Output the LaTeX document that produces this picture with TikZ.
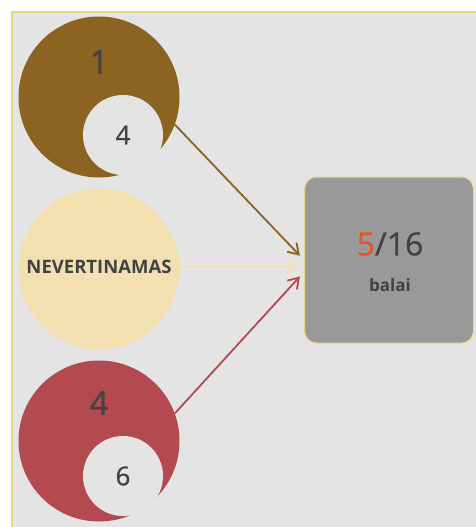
\documentclass[tikz,border=0pt]{standalone}
\usepackage{fontspec}
\setmainfont{Open Sans}
\newfontfamily\medfont{Open Sans}[FakeBold=0.7]
\usetikzlibrary{arrows.meta,positioning}

\definecolor{panelbg}{HTML}{E4E4E4}
\definecolor{goldline}{HTML}{F0D485}
\definecolor{brownc}{HTML}{8C6321}
\definecolor{wheatc}{HTML}{F2E0B0}
\definecolor{redc}{HTML}{B34A4F}
\definecolor{boxgray}{HTML}{999999}
\definecolor{scorered}{HTML}{E8532B}
\definecolor{txtgray}{HTML}{424242}

\tikzset{
  outer/.style={circle, minimum size=161pt, inner sep=0pt},
  inner/.style={circle, fill=panelbg, minimum size=80pt, inner sep=0pt,
    text=txtgray, font=\medfont\fontsize{26}{26}\selectfont},
  biglbl/.style={text=txtgray, font=\medfont\fontsize{33}{33}\selectfont},
  result/.style={rectangle, rounded corners=12pt, fill=boxgray, draw=goldline,
    line width=1pt, minimum width=169pt, minimum height=166pt},
  link/.style={-{Straight Barb[length=10pt,width=13pt]}, line width=1.8pt, shorten >=6pt}
}

\begin{document}
\begin{tikzpicture}[x=1pt,y=-1pt]
  \useasboundingbox (0,0) rectangle (475,527);
  \fill[white] (0,0) rectangle (475,527);
  \draw[fill=panelbg, draw=goldline, line width=2pt] (12,12) rectangle (482,534);

  % first question
  \node [outer, fill=brownc] (q_1) at (99,97) {};
  \node [inner] (q_1in) at (123,135) {4};
  \node [biglbl] (q_1lbl) at (99,62) {1};

  % second question
  \node [outer, fill=wheatc] (q_2) at (99,269) {};
  \node [text=txtgray, font=\bfseries\fontsize{18.5}{18.5}\selectfont] (q_2lbl) at (99,267) {NEVERTINAMAS};

  % third question
  \node [outer, fill=redc] (q_3) at (99,441) {};
  \node [inner] (q_3in) at (123,476) {6};
  \node [biglbl] (q_3lbl) at (99,403) {4};

  % score box
  \node [result] (total) at (389,260) {};
  \node [text=txtgray, font=\medfont\fontsize{32}{32}\selectfont] (score) at (390,244) {\textcolor{scorered}{5}/16};
  \node [text=txtgray, font=\bfseries\fontsize{17}{17}\selectfont] (unit) at (390,285) {balai};

  \draw [link, draw=brownc] (q_1.-20) -- (total.west);
  \draw [link, draw=wheatc] (q_2.east |- 0,267) -- ([yshift=-7pt]total.west);
  \draw [link, draw=redc] (q_3.20) -- ([yshift=-12pt]total.west);
\end{tikzpicture}
\end{document}
